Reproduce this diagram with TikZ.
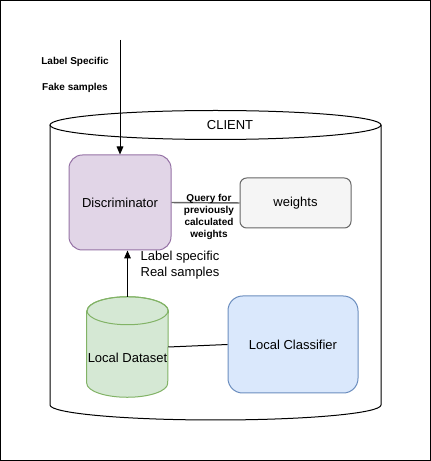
\documentclass[tikz,border=0pt]{standalone}
\usepackage{fontspec}
\setmainfont{Liberation Sans}
\usepackage{xcolor}
\usepackage{tikz}
\usetikzlibrary{arrows.meta,positioning,calc}

\definecolor{discfill}{HTML}{E1D5E7}
\definecolor{discline}{HTML}{9673A6}
\definecolor{wfill}{HTML}{F5F5F5}
\definecolor{wline}{HTML}{666666}
\definecolor{dsfill}{HTML}{D5E8D4}
\definecolor{dsline}{HTML}{82B366}
\definecolor{clsfill}{HTML}{DAE8FC}
\definecolor{clsline}{HTML}{6C8EBF}

\begin{document}
\begin{tikzpicture}[x=0.75pt,y=0.75pt,
    box/.style={rectangle,draw,minimum width=#1},
    note/.style={font=\bfseries\fontsize{7.5}{8.8}\selectfont,align=center},
    txt/.style={font=\fontsize{9.75}{11.5}\selectfont}]
    % Frame
    \useasboundingbox (0,0) rectangle (431,461);
    \draw[black,line width=0.75pt] (0.5,0.5) rectangle (430.5,460.5);

    % Client cylinder
    \draw[black,line width=0.75pt,fill=white]
        (50,336) -- (50,56) arc[start angle=180,end angle=360,x radius=165.5,y radius=15]
        -- (381,336);
    \draw[black,line width=0.75pt] (215.5,336) ellipse[x radius=165.5,y radius=14.5];
    \node[txt] (client) at (230,336) {CLIENT};

    % Boxes
    \node[box=102*0.75pt,minimum height=95*0.75pt,rounded corners=10pt,
          fill=discfill,draw=discline,line width=0.75pt,txt] (disc) at (120,258.5) {Discriminator};
    \node[box=111*0.75pt,minimum height=50*0.75pt,rounded corners=5pt,
          fill=wfill,draw=wline,line width=0.75pt,txt] (weights) at (295.5,258) {weights};
    \node[box=130*0.75pt,minimum height=97*0.75pt,rounded corners=11pt,
          fill=clsfill,draw=clsline,line width=0.75pt,txt] (cls) at (293,116.5) {Local Classifier};

    % Local dataset cylinder
    \node[minimum width=81*0.75pt,minimum height=100*0.75pt,inner sep=0pt] (ds) at (127.5,114) {};
    \filldraw[fill=dsfill,draw=dsline,line width=0.75pt]
        ($(ds.north west)+(0,-14)$) -- ($(ds.south west)+(0,14)$)
        arc[start angle=180,end angle=360,x radius=40.5,y radius=14]
        -- ($(ds.north east)+(0,-14)$)
        arc[start angle=0,end angle=180,x radius=40.5,y radius=14];
    \draw[draw=dsline,line width=0.75pt] ($(ds.north)+(0,-14)$) ellipse[x radius=40.5,y radius=14];
    \node[txt] (dstext) at (127.5,103) {Local Dataset};

    % Input arrow
    \coordinate (in) at (120,421);
    \draw[-{Triangle[length=6pt,width=5pt]},line width=0.75pt] (in) -- (disc.north);
    \node[note] (fake1) at (75,399) {Label Specific};
    \node[note] (fake2) at (75,373) {Fake samples};

    % Connectors
    \draw[wline,line width=1.1pt] (disc.east) -- (weights.west);
    \node[note,inner sep=0pt] (query) at (209,244) {Query for\\previously\\calculated\\weights};
    \draw[-{Triangle[length=6pt,width=5pt]},line width=0.75pt] (ds.north) -- (ds.north |- disc.south);
    \node[txt,align=center,inner sep=0pt] (real) at (180,196) {Label specific\\Real samples};
    \draw[line width=0.75pt] (ds.east) -- (cls.west);
\end{tikzpicture}
\end{document}
